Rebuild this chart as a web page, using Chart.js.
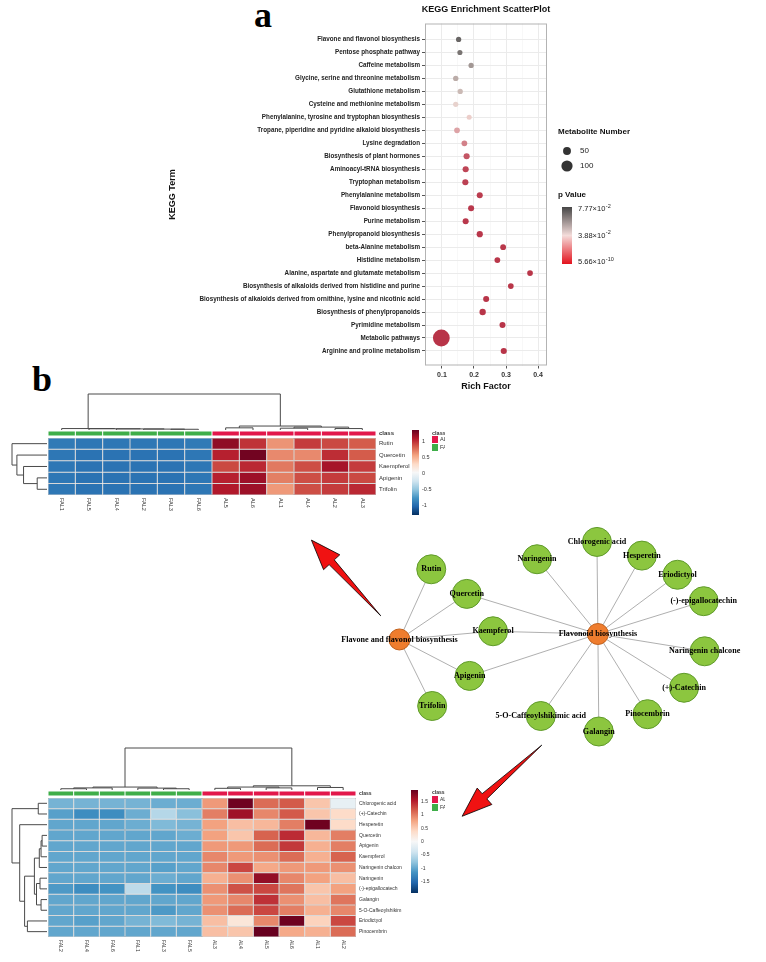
<!DOCTYPE html>
<html>
<head>
<meta charset="utf-8">
<title>KEGG enrichment and flavonoid heatmaps</title>
<script src="https://cdn.jsdelivr.net/npm/chart.js@4.4.1/dist/chart.umd.min.js"></script>
<style>
  body { margin: 0; background: #fff; }
  #page { position: relative; width: 766px; height: 962px; overflow: hidden; }
  #page canvas { position: absolute; }
  .panel-tag { position: absolute; font: bold 36px "Liberation Serif", "Times New Roman", serif; line-height: 1; color: #000; }
</style>
</head>
<body>
<div id="page">
  <div class="panel-tag" style="left:254px; top:-3px">a</div>
  <div class="panel-tag" style="left:32px; top:361px">b</div>
  <canvas id="chartKegg" width="520" height="396" style="left:160px; top:0"></canvas>
  <canvas id="chartHeat1" width="445" height="140" style="left:0; top:385px"></canvas>
  <canvas id="chartHeat2" width="445" height="222" style="left:0; top:740px"></canvas>
  <canvas id="chartNetwork" width="486" height="350" style="left:280px; top:500px"></canvas>
</div>
<script>
Chart.defaults.font.family = '"Liberation Sans", Arial, sans-serif';
Chart.defaults.color = '#333';
Chart.defaults.animation = false;

// ---------- panel a: KEGG enrichment ----------
const keggTerms = [
    'Flavone and flavonol biosynthesis',
    'Pentose phosphate pathway',
    'Caffeine metabolism',
    'Glycine, serine and threonine metabolism',
    'Glutathione metabolism',
    'Cysteine and methionine metabolism',
    'Phenylalanine, tyrosine and tryptophan biosynthesis',
    'Tropane, piperidine and pyridine alkaloid biosynthesis',
    'Lysine degradation',
    'Biosynthesis of plant hormones',
    'Aminoacyl-tRNA biosynthesis',
    'Tryptophan metabolism',
    'Phenylalanine metabolism',
    'Flavonoid biosynthesis',
    'Purine metabolism',
    'Phenylpropanoid biosynthesis',
    'beta-Alanine metabolism',
    'Histidine metabolism',
    'Alanine, aspartate and glutamate metabolism',
    'Biosynthesis of alkaloids derived from histidine and purine',
    'Biosynthesis of alkaloids derived from ornithine, lysine and nicotinic acid',
    'Biosynthesis of phenylpropanoids',
    'Pyrimidine metabolism',
    'Metabolic pathways',
    'Arginine and proline metabolism'
];
const richFactor = [0.152, 0.156, 0.191, 0.143, 0.157, 0.143, 0.185, 0.147, 0.170, 0.177, 0.174, 0.173, 0.218,
    0.191, 0.174, 0.218, 0.291, 0.273, 0.375, 0.315, 0.238, 0.227, 0.289, 0.098, 0.293];
const metaboliteCount = [22, 21, 22, 23, 22, 22, 20, 26, 26, 30, 30, 30, 29, 29, 29, 31, 27, 27, 26, 26, 29, 32, 29, 225, 30];
const pValue = [0.072, 0.068, 0.058, 0.052, 0.048, 0.041, 0.036, 0.026, 0.018, 0.008, 0.004, 0.003, 0.002, 0.001,
    0.001, 0.0008, 0.0006, 0.0006, 0.0004, 0.0004, 0.0003, 0.0002, 0.0002, 5.66e-10, 0.0001];
const richTicks = [0.05, 0.1, 0.15, 0.2, 0.25, 0.3, 0.35, 0.4];
const sizeLegendValues = [50, 100];
const pLegendValues = [0.0777, 0.0388, 5.66e-10];
const pLegendLabels = [['7.77', '-2'], ['3.88', '-2'], ['5.66', '-10']];
const pMax = 0.0777;

// ---------- panel b: heatmaps ----------
const classColors = { AL: '#e2184b', FAL: '#3fae49' };

const heat1Rows = ['Rutin', 'Quercetin', 'Kaempferol', 'Apigenin', 'Trifolin'];
const heat1Cols = ['FAL1', 'FAL5', 'FAL4', 'FAL2', 'FAL3', 'FAL6', 'AL5', 'AL6', 'AL1', 'AL4', 'AL2', 'AL3'];
const heat1Class = ['FAL', 'FAL', 'FAL', 'FAL', 'FAL', 'FAL', 'AL', 'AL', 'AL', 'AL', 'AL', 'AL'];
const heat1Values = [
    [-0.90, -0.92, -0.92, -0.92, -0.92, -0.90, 1.20, 0.98, 0.62, 0.95, 0.90, 0.83],
    [-0.92, -0.94, -0.94, -0.94, -0.94, -0.92, 1.05, 1.30, 0.66, 0.66, 1.00, 0.83],
    [-0.92, -0.94, -0.94, -0.94, -0.94, -0.92, 0.90, 1.02, 0.72, 0.88, 1.12, 0.95],
    [-0.92, -0.94, -0.94, -0.94, -0.94, -0.92, 1.05, 1.15, 0.70, 0.88, 0.95, 0.90],
    [-0.92, -0.94, -0.94, -0.94, -0.94, -0.92, 1.08, 1.15, 0.60, 0.88, 0.95, 1.02]
];
// merges: [a, b, height]; a/b >= 0 is a leaf index, negative is an earlier merge (1-based)
const heat1RowTree = [[3, 4, 0.28], [2, -1, 0.67], [1, -2, 0.86], [0, -3, 1]];
const heat1ColTree = [[4, 5, 0.02], [3, -1, 0.025], [2, -2, 0.03], [1, -3, 0.035], [0, -4, 0.04],
    [6, 7, 0.06], [8, 9, 0.05], [10, 11, 0.04], [-7, -8, 0.08], [-6, -9, 0.11], [-5, -10, 1]];
const heat1Ticks = [1, 0.5, 0, -0.5, -1];

const heat2Rows = ['Chlorogenic acid', '(+)-Catechin', 'Hesperetin', 'Quercetin', 'Apigenin', 'Kaempferol',
    'Naringenin chalcon', 'Naringenin', '(-)-epigallocatech', 'Galangin', '5-O-Caffeoylshikim', 'Eriodictyol', 'Pinocembrin'];
const heat2Cols = ['FAL2', 'FAL4', 'FAL6', 'FAL1', 'FAL3', 'FAL5', 'AL3', 'AL4', 'AL5', 'AL6', 'AL1', 'AL2'];
const heat2Class = ['FAL', 'FAL', 'FAL', 'FAL', 'FAL', 'FAL', 'AL', 'AL', 'AL', 'AL', 'AL', 'AL'];
const heat2Values = [
    [-0.90, -0.90, -0.90, -0.90, -0.95, -0.95, 0.85, 1.90, 1.10, 1.20, 0.55, -0.15],
    [-1.05, -1.20, -1.20, -0.95, -0.55, -0.80, 1.00, 1.65, 0.95, 1.20, 0.55, 0.38],
    [-1.00, -1.00, -1.00, -0.95, -0.85, -0.90, 0.80, 0.60, 0.65, 1.00, 1.90, 0.38],
    [-1.00, -1.00, -1.00, -1.00, -1.00, -0.95, 0.80, 0.55, 1.15, 1.45, 0.65, 1.00],
    [-1.00, -1.00, -1.00, -1.00, -1.00, -1.00, 0.85, 0.85, 1.10, 1.38, 0.70, 1.00],
    [-1.00, -1.00, -1.00, -1.00, -1.00, -1.00, 0.95, 0.85, 0.90, 1.10, 0.70, 1.15],
    [-1.00, -1.00, -1.00, -1.00, -1.05, -1.00, 0.95, 1.30, 0.75, 0.85, 0.85, 0.90],
    [-1.00, -1.00, -1.00, -1.00, -0.95, -1.00, 0.70, 0.90, 1.72, 0.95, 0.80, 0.60],
    [-1.10, -1.20, -1.15, -0.50, -1.15, -1.20, 0.90, 1.25, 1.30, 1.05, 0.55, 0.80],
    [-1.00, -1.00, -1.00, -1.00, -1.00, -1.00, 0.85, 0.95, 1.42, 0.90, 0.60, 1.05],
    [-1.00, -1.00, -1.00, -1.00, -1.10, -1.00, 0.90, 1.10, 1.30, 1.00, 0.70, 0.95],
    [-1.00, -1.05, -1.00, -0.90, -0.85, -0.90, 0.60, 0.25, 0.95, 1.90, 0.45, 1.30],
    [-1.00, -1.00, -1.00, -1.00, -1.00, -1.00, 0.60, 0.55, 1.95, 0.75, 0.70, 1.10]
];
const heat2RowTree = [[3, 4, 0.14], [-1, 5, 0.17], [-2, 6, 0.22], [7, 8, 0.2], [9, 10, 0.17], [-4, -5, 0.3],
    [-3, -6, 0.36], [11, 12, 0.56], [-7, -8, 0.64], [2, -9, 0.78], [0, 1, 0.25], [-11, -10, 1]];
const heat2ColTree = [[0, 1, 0.03], [-1, 2, 0.05], [4, 5, 0.03], [3, -3, 0.045], [-2, -4, 0.07],
    [6, 7, 0.04], [8, 9, 0.05], [-6, -7, 0.07], [10, 11, 0.06], [-8, -9, 0.1], [-5, -10, 1]];
const heat2Ticks = [1.5, 1, 0.5, 0, -0.5, -1, -1.5];

// ---------- panel b: network ----------
const netNodes = ['Flavone and flavonol biosynthesis', 'Rutin', 'Quercetin', 'Kaempferol', 'Apigenin', 'Trifolin',
    'Flavonoid biosynthesis', 'Naringenin', 'Chlorogenic acid', 'Hesperetin', 'Eriodictyol', '(-)-epigallocatechin',
    'Naringenin chalcone', '(+)-Catechin', 'Pinocembrin', 'Galangin', '5-O-Caffeoylshikimic acid'];
// layout units, Flavonoid biosynthesis at the origin
const netNodeX = [-21.2, -17.8, -14.0, -11.2, -13.7, -17.7, 0, -6.5, -0.1, 4.7, 8.5, 11.3, 11.4, 9.2, 5.3, 0.1, -6.1];
const netNodeY = [-0.6, 7.1, 4.4, 0.3, -4.6, -7.9, 0, 8.2, 10.1, 8.6, 6.5, 3.6, -1.9, -5.9, -8.8, -10.7, -9.0];
const netHubs = [0, 6];
const netEdges = [[0, 1], [0, 2], [0, 3], [0, 4], [0, 5], [6, 2], [6, 3], [6, 4], [6, 7], [6, 8], [6, 9],
    [6, 10], [6, 11], [6, 12], [6, 13], [6, 14], [6, 15], [6, 16]];
// [tailX, tailY, tipX, tipY] in the same layout units
const figArrows = [[-23.2, 2.0, -30.6, 10.3], [-6.0, -12.2, -14.5, -20.0]];

// ---------- helpers ----------
const sizeOf = n => 0.56 * Math.sqrt(n);
const lerp = (a, b, t) => a.map((v, i) => Math.round(v + (b[i] - v) * t));
const rgb = c => `rgb(${c[0]},${c[1]},${c[2]})`;
const hex = h => [1, 3, 5].map(i => parseInt(h.slice(i, i + 2), 16));
const isMajor = v => Math.abs(v * 10 - Math.round(v * 10)) < 1e-6;

const pointLow = [184, 52, 72], pointMid = [240, 218, 212], pointHigh = [82, 82, 82];
const pColor = p => {
    const t = Math.min(1, p / pMax);
    return rgb(t < 0.5 ? lerp(pointLow, pointMid, t * 2) : lerp(pointMid, pointHigh, t * 2 - 1));
};

const rdbu = ['#053061', '#2166ac', '#4393c3', '#92c5de', '#d1e5f0', '#f7f7f7',
    '#fddbc7', '#f4a582', '#d6604d', '#b2182b', '#67001f'].map(hex);
const heatColor = (v, lo, hi) => {
    const t = Math.min(1, Math.max(0, (v - lo) / (hi - lo))) * (rdbu.length - 1);
    const i = Math.min(rdbu.length - 2, Math.floor(t));
    return rgb(lerp(rdbu[i], rdbu[i + 1], t - i));
};

const drawSci = (ctx, mant, exp, x, y) => {
    ctx.font = '7.5px "Liberation Sans", Arial';
    const base = mant + '\u00d710';
    ctx.fillText(base, x, y);
    const w = ctx.measureText(base).width;
    ctx.font = '5.5px "Liberation Sans", Arial';
    ctx.fillText(exp, x + w + 0.5, y - 3);
};

// ---------- chart a ----------
const keggDecor = {
    id: 'keggDecor',
    afterDraw(chart) {
        const { ctx, chartArea: a } = chart;
        ctx.save();
        ctx.strokeStyle = '#b3b3b3';
        ctx.lineWidth = 1;
        ctx.strokeRect(a.left + 0.5, a.top + 0.5, a.right - a.left - 1, a.bottom - a.top - 1);

        ctx.fillStyle = '#111';
        ctx.textBaseline = 'middle';
        ctx.textAlign = 'center';
        ctx.font = 'bold 9px "Liberation Sans", Arial';
        ctx.fillText('KEGG Enrichment ScatterPlot', (a.left + a.right) / 2, 10);

        const lx = a.right + 11;
        ctx.textAlign = 'left';
        ctx.font = 'bold 8px "Liberation Sans", Arial';
        ctx.fillText('Metabolite Number', lx, 132);
        sizeLegendValues.forEach((n, i) => {
            const cy = 151 + i * 15;
            ctx.beginPath();
            ctx.arc(lx + 9, cy, sizeOf(n), 0, Math.PI * 2);
            ctx.fillStyle = '#333';
            ctx.fill();
            ctx.fillStyle = '#222';
            ctx.font = '8px "Liberation Sans", Arial';
            ctx.fillText(String(n), lx + 22, cy);
        });

        ctx.fillStyle = '#111';
        ctx.font = 'bold 8px "Liberation Sans", Arial';
        ctx.fillText('p Value', lx, 195);
        const cbTop = 207, cbBot = 264;
        const grad = ctx.createLinearGradient(0, cbTop, 0, cbBot);
        grad.addColorStop(0, '#464646');
        grad.addColorStop(0.5, '#f4dcda');
        grad.addColorStop(1, '#e3121d');
        ctx.fillStyle = grad;
        ctx.fillRect(lx + 4, cbTop, 10, cbBot - cbTop);
        ctx.fillStyle = '#222';
        pLegendValues.forEach((p, i) => {
            const y = cbBot - 2 - (p / pMax) * (cbBot - cbTop - 4);
            drawSci(ctx, pLegendLabels[i][0], pLegendLabels[i][1], lx + 20, y);
        });
        ctx.restore();
    }
};

new Chart(document.getElementById('chartKegg'), {
    type: 'scatter',
    data: {
        datasets: [{
            label: 'KEGG',
            data: keggTerms.map((t, i) => ({ x: richFactor[i], y: i })),
            pointRadius: metaboliteCount.map(sizeOf),
            pointBackgroundColor: pValue.map(pColor),
            pointBorderWidth: 0
        }]
    },
    options: {
        responsive: false,
        layout: { padding: { left: 3, right: 133, top: 23.5, bottom: 1.5 } },
        plugins: { legend: { display: false }, tooltip: { enabled: false } },
        scales: {
            x: {
                type: 'linear',
                min: 0.047,
                max: 0.428,
                afterBuildTicks: s => { s.ticks = richTicks.map(v => ({ value: v })); },
                afterFit: s => { s.height = 29; },
                border: { display: false },
                grid: {
                    color: ctx => isMajor(ctx.tick.value) ? '#ebebeb' : '#f4f4f4',
                    lineWidth: ctx => isMajor(ctx.tick.value) ? 1 : 0.6,
                    tickLength: 3,
                    tickColor: ctx => isMajor(ctx.tick.value) ? '#555' : 'rgba(0,0,0,0)'
                },
                ticks: {
                    autoSkip: false,
                    maxRotation: 0,
                    padding: 2,
                    color: '#333',
                    font: { size: 7, weight: 'bold' },
                    callback: v => isMajor(v) ? v.toFixed(1) : ''
                },
                title: { display: true, text: 'Rich Factor', color: '#111', font: { size: 9, weight: 'bold' }, padding: { top: 2, bottom: 3 } }
            },
            y: {
                type: 'linear',
                reverse: true,
                min: -1.23,
                max: keggTerms.length - 1 + 1.12,
                afterBuildTicks: s => { s.ticks = keggTerms.map((t, i) => ({ value: i })); },
                afterFit: s => { s.width = 262; },
                border: { display: false },
                grid: { color: '#ebebeb', tickLength: 3, tickColor: '#555' },
                ticks: {
                    autoSkip: false,
                    padding: 2,
                    color: '#222',
                    font: { size: 6.3, weight: 'bold' },
                    callback: v => keggTerms[v]
                },
                title: { display: true, text: 'KEGG Term', color: '#111', font: { size: 9, weight: 'bold' }, padding: { top: 4, bottom: 4 } }
            }
        }
    },
    plugins: [keggDecor]
});

// ---------- heatmaps ----------
const drawTree = (ctx, merges, leafPos, vertical, base, size) => {
    const pos = [], hgt = [];
    const P = k => k >= 0 ? leafPos(k) : pos[-k - 1];
    const H = k => k >= 0 ? 0 : hgt[-k - 1];
    merges.forEach(([a, b, h], i) => {
        const pa = P(a), pb = P(b), ha = H(a), hb = H(b);
        pos[i] = (pa + pb) / 2;
        hgt[i] = h;
        ctx.beginPath();
        if (vertical) {
            ctx.moveTo(pa, base - ha * size);
            ctx.lineTo(pa, base - h * size);
            ctx.lineTo(pb, base - h * size);
            ctx.lineTo(pb, base - hb * size);
        } else {
            ctx.moveTo(base - ha * size, pa);
            ctx.lineTo(base - h * size, pa);
            ctx.lineTo(base - h * size, pb);
            ctx.lineTo(base - hb * size, pb);
        }
        ctx.stroke();
    });
};

const heatmapChart = (canvasId, rows, cols, classes, values, rowTree, colTree, ticks, st) => {
    const datasets = [{
        label: 'class',
        data: cols.map(() => [st.classTop, st.classBottom]),
        backgroundColor: classes.map(c => classColors[c]),
        borderColor: 'rgba(255,255,255,0.6)',
        borderWidth: 0.5
    }];
    rows.forEach((r, i) => datasets.push({
        label: r,
        data: cols.map(() => [i, i + 1]),
        backgroundColor: values[i].map(v => heatColor(v, st.lo, st.hi)),
        borderColor: '#a9a9a9',
        borderWidth: 0.5
    }));

    const decor = {
        id: 'heatDecor',
        afterDraw(chart) {
            const { ctx, chartArea: a, scales: { x, y } } = chart;
            ctx.save();
            ctx.strokeStyle = '#4a4a4a';
            ctx.lineWidth = 1;
            drawTree(ctx, colTree, i => x.getPixelForValue(i), true, a.top - 1, st.colTreeH);
            drawTree(ctx, rowTree, i => y.getPixelForValue(i + 0.5), false, a.left - 1, st.rowTreeW);

            ctx.fillStyle = '#333';
            ctx.textBaseline = 'middle';
            ctx.textAlign = 'left';
            ctx.font = `${st.rowFont}px "Liberation Sans", Arial`;
            rows.forEach((r, i) => ctx.fillText(r, a.right + 3, y.getPixelForValue(i + 0.5)));
            ctx.font = `bold ${st.rowFont}px "Liberation Sans", Arial`;
            ctx.fillText('class', a.right + 3, y.getPixelForValue((st.classTop + st.classBottom) / 2));

            ctx.font = `${st.colFont}px "Liberation Sans", Arial`;
            cols.forEach((c, i) => {
                ctx.save();
                ctx.translate(x.getPixelForValue(i), a.bottom + 3);
                ctx.rotate(Math.PI / 2);
                ctx.fillText(c, 0, 0);
                ctx.restore();
            });

            // colour key
            const grad = ctx.createLinearGradient(0, st.cbBottom, 0, st.cbTop);
            rdbu.forEach((c, i) => grad.addColorStop(i / (rdbu.length - 1), rgb(c)));
            ctx.fillStyle = grad;
            ctx.fillRect(st.cbX, st.cbTop, st.cbW, st.cbBottom - st.cbTop);
            ctx.fillStyle = '#333';
            ctx.font = `${st.colFont}px "Liberation Sans", Arial`;
            ticks.forEach(v => {
                const ty = st.cbBottom - (v - st.lo) / (st.hi - st.lo) * (st.cbBottom - st.cbTop);
                ctx.fillText(String(v), st.cbX + st.cbW + 3, ty);
            });

            // class legend
            const lx = st.legendX;
            ctx.font = `bold ${st.colFont}px "Liberation Sans", Arial`;
            ctx.fillText('class', lx, st.cbTop + 3);
            ctx.font = `${st.colFont}px "Liberation Sans", Arial`;
            ['AL', 'FAL'].forEach((c, i) => {
                const by = st.cbTop + 6 + i * 8;
                ctx.fillStyle = classColors[c];
                ctx.fillRect(lx, by, 6, 7);
                ctx.fillStyle = '#333';
                ctx.fillText(c, lx + 8, by + 3.5);
            });
            ctx.restore();
        }
    };

    return new Chart(document.getElementById(canvasId), {
        type: 'bar',
        data: { labels: cols, datasets },
        options: {
            responsive: false,
            layout: { padding: st.pad },
            plugins: { legend: { display: false }, tooltip: { enabled: false } },
            datasets: { bar: { barPercentage: 1, categoryPercentage: 1, grouped: false, borderSkipped: false, inflateAmount: 0 } },
            scales: {
                x: { display: false },
                y: { display: false, reverse: true, min: st.classTop, max: rows.length }
            }
        },
        plugins: [decor]
    });
};

heatmapChart('chartHeat1', heat1Rows, heat1Cols, heat1Class, heat1Values, heat1RowTree, heat1ColTree, heat1Ticks, {
    pad: { left: 48, right: 69, top: 46, bottom: 30 },
    classTop: -0.61, classBottom: -0.18, lo: -1.28, hi: 1.34,
    rowFont: 6, colFont: 5.5, colTreeH: 36, rowTreeW: 35,
    cbX: 412, cbW: 7, cbTop: 45, cbBottom: 130, legendX: 432
});

heatmapChart('chartHeat2', heat2Rows, heat2Cols, heat2Class, heat2Values, heat2RowTree, heat2ColTree, heat2Ticks, {
    pad: { left: 48, right: 89, top: 51, bottom: 25 },
    classTop: -0.65, classBottom: -0.19, lo: -1.92, hi: 1.94,
    rowFont: 5, colFont: 5, colTreeH: 42, rowTreeW: 35,
    cbX: 411, cbW: 7, cbTop: 50, cbBottom: 153, legendX: 432
});

// ---------- network ----------
const netDecor = {
    id: 'netDecor',
    afterDraw(chart) {
        const { ctx, scales: { x, y } } = chart;
        ctx.save();
        ctx.fillStyle = '#000';
        ctx.textAlign = 'center';
        ctx.textBaseline = 'middle';
        ctx.font = 'bold 8.1px "Liberation Serif", "Times New Roman", serif';
        netNodes.forEach((n, i) => ctx.fillText(n, x.getPixelForValue(netNodeX[i]), y.getPixelForValue(netNodeY[i])));

        figArrows.forEach(([x0, y0, x1, y1]) => {
            const fx = x.getPixelForValue(x0), fy = y.getPixelForValue(y0);
            const tx = x.getPixelForValue(x1), ty = y.getPixelForValue(y1);
            const len = Math.hypot(fx - tx, fy - ty);
            const ux = (fx - tx) / len, uy = (fy - ty) / len, nx = -uy, ny = ux;
            const bx = tx + ux * 30, by = ty + uy * 30;
            ctx.beginPath();
            ctx.moveTo(tx, ty);
            ctx.lineTo(bx + nx * 11, by + ny * 11);
            ctx.lineTo(bx + nx * 3.5, by + ny * 3.5);
            ctx.lineTo(fx, fy);
            ctx.lineTo(bx - nx * 3.5, by - ny * 3.5);
            ctx.lineTo(bx - nx * 11, by - ny * 11);
            ctx.closePath();
            ctx.fillStyle = '#f01212';
            ctx.fill();
            ctx.strokeStyle = '#000';
            ctx.lineWidth = 0.8;
            ctx.stroke();
        });
        ctx.restore();
    }
};

new Chart(document.getElementById('chartNetwork'), {
    type: 'scatter',
    data: {
        datasets: [
            {
                label: 'nodes',
                order: 0,
                data: netNodes.map((n, i) => ({ x: netNodeX[i], y: netNodeY[i] })),
                pointRadius: netNodes.map((n, i) => netHubs.includes(i) ? 10.5 : 14.5),
                pointBackgroundColor: netNodes.map((n, i) => netHubs.includes(i) ? '#ef7d2e' : '#8cc63f'),
                pointBorderColor: netNodes.map((n, i) => netHubs.includes(i) ? '#c0601c' : '#5f9a2a'),
                pointBorderWidth: 1
            },
            ...netEdges.map(([s, t]) => ({
                type: 'line',
                order: 1,
                data: [{ x: netNodeX[s], y: netNodeY[s] }, { x: netNodeX[t], y: netNodeY[t] }],
                borderColor: '#9a9a9a',
                borderWidth: 0.8,
                pointRadius: 0,
                fill: false
            }))
        ]
    },
    options: {
        responsive: false,
        layout: { padding: 0 },
        plugins: { legend: { display: false }, tooltip: { enabled: false } },
        scales: {
            x: { type: 'linear', display: false, min: -32.3, max: 16.3 },
            y: { type: 'linear', display: false, min: -22.0, max: 13.0 }
        }
    },
    plugins: [netDecor]
});
</script>
</body>
</html>
